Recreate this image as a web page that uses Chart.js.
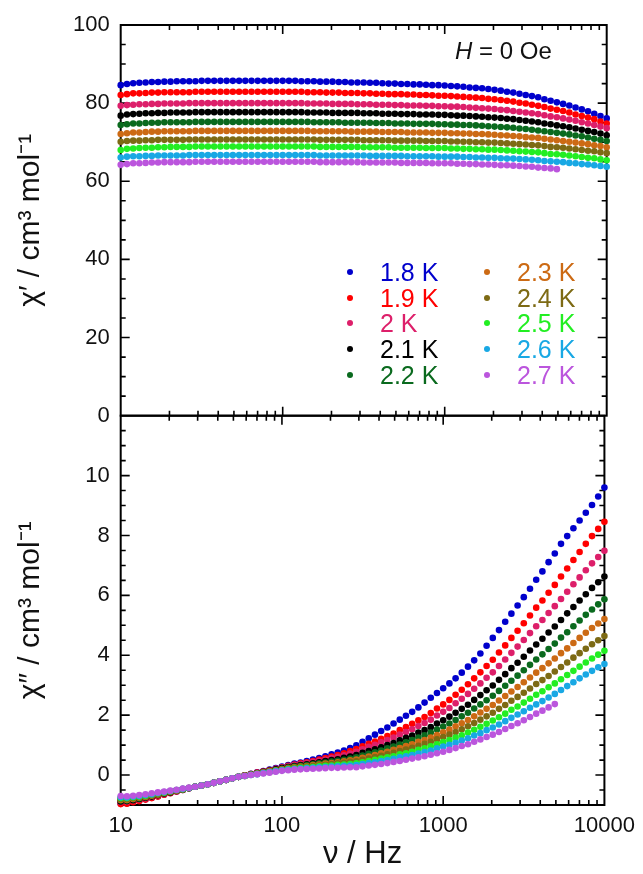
<!DOCTYPE html>
<html>
<head>
<meta charset="utf-8">
<script src="https://cdn.jsdelivr.net/npm/chart.js@4.4.1/dist/chart.umd.min.js"></script>
<style>
  html, body { margin: 0; padding: 0; background: #fff; }
  #wrap { position: relative; width: 643px; height: 874px; overflow: hidden; font-family: 'Liberation Sans', Arial, sans-serif; }
  #wrap canvas { position: absolute; left: 0; top: 0; }
  .note { position: absolute; left: 455px; top: 37px; font-size: 24px; line-height: 28px; color: #111; white-space: nowrap; }
  .leg { position: absolute; font-size: 25px; line-height: 26px; white-space: nowrap; }
  .leg b { position: absolute; width: 6px; height: 6px; border-radius: 50%; left: -33px; top: 10px; }
</style>
</head>
<body>
<div id="wrap">
  <canvas id="chartRe" width="643" height="874"></canvas>
  <canvas id="chartIm" width="643" height="874"></canvas>
  <div class="note"><i>H</i> = 0 Oe</div>
  <div id="legend"></div>
</div>
<script>
// frequency points (Hz), shared by every series
const freq = [
  10, 10.93, 11.94, 13.04, 14.25, 15.57, 17.01, 18.59, 20.31, 22.19, 24.25, 26.49, 28.94,
  31.62, 34.55, 37.75, 41.25, 45.07, 49.24, 53.80, 58.78, 64.22, 70.17, 76.67, 83.77, 91.52,
  100, 109.3, 119.4, 130.4, 142.5, 155.7, 170.1, 185.9, 203.1, 221.9, 242.5, 264.9, 289.4,
  316.2, 345.5, 377.5, 412.5, 450.7, 492.4, 538.0, 587.8, 642.2, 701.7, 766.7, 837.7, 915.2,
  1000, 1093, 1194, 1304, 1425, 1557, 1701, 1859, 2031, 2219, 2425, 2649, 2894,
  3162, 3455, 3775, 4125, 4507, 4924, 5380, 5878, 6422, 7017, 7667, 8377, 9152,
  10000
];

const temps = ['1.8 K', '1.9 K', '2 K', '2.1 K', '2.2 K', '2.3 K', '2.4 K', '2.5 K', '2.6 K', '2.7 K'];
const colors = ['#0000cc', '#ff0000', '#dd1f6a', '#000000', '#0a6a1e', '#cc6a14', '#7d6a14', '#22ee22', '#18a8e4', '#bb55dd'];

// chi' (in-phase)
const re18 = [
  84.6, 84.9, 85.1, 85.2, 85.3, 85.4, 85.4, 85.5, 85.5, 85.6, 85.6, 85.6, 85.6,
  85.7, 85.7, 85.7, 85.7, 85.7, 85.7, 85.7, 85.7, 85.7, 85.7, 85.7, 85.7, 85.7,
  85.7, 85.7, 85.7, 85.6, 85.6, 85.6, 85.5, 85.5, 85.5, 85.4, 85.4, 85.3, 85.3,
  85.3, 85.2, 85.2, 85.1, 85.0, 85.0, 84.9, 84.9, 84.8, 84.8, 84.7, 84.6, 84.6,
  84.5, 84.4, 84.3, 84.2, 84.0, 83.9, 83.8, 83.6, 83.4, 83.2, 82.9, 82.7, 82.4,
  82.1, 81.8, 81.5, 81.0, 80.6, 80.2, 79.8, 79.4, 78.9, 78.4, 77.9, 77.3, 76.7,
  76.1
];
const re19 = [
  82.1, 82.3, 82.5, 82.5, 82.6, 82.7, 82.7, 82.8, 82.8, 82.8, 82.8, 82.8, 82.9,
  82.9, 82.9, 82.9, 82.9, 82.9, 82.9, 82.9, 82.9, 82.9, 82.9, 82.9, 82.9, 82.9,
  82.9, 82.9, 82.9, 82.9, 82.8, 82.8, 82.8, 82.7, 82.7, 82.7, 82.6, 82.6, 82.6,
  82.5, 82.5, 82.4, 82.4, 82.3, 82.3, 82.3, 82.2, 82.2, 82.1, 82.1, 82.0, 81.9,
  81.9, 81.8, 81.7, 81.6, 81.5, 81.4, 81.3, 81.1, 81.0, 80.8, 80.6, 80.4, 80.1,
  79.9, 79.6, 79.3, 79.0, 78.6, 78.3, 78.0, 77.6, 77.1, 76.7, 76.3, 75.9, 75.3,
  74.8
];
const re20 = [
  79.3, 79.5, 79.6, 79.7, 79.7, 79.8, 79.8, 79.9, 79.9, 79.9, 79.9, 80.0, 80.0,
  80.0, 80.0, 80.0, 80.0, 80.0, 80.0, 80.0, 80.0, 80.0, 80.0, 80.0, 80.0, 80.0,
  80.0, 80.0, 80.0, 80.0, 79.9, 79.9, 79.9, 79.9, 79.8, 79.8, 79.8, 79.8, 79.7,
  79.7, 79.7, 79.6, 79.6, 79.6, 79.5, 79.5, 79.4, 79.4, 79.4, 79.3, 79.3, 79.2,
  79.2, 79.1, 79.1, 79.0, 78.9, 78.8, 78.7, 78.6, 78.5, 78.3, 78.2, 78.0, 77.8,
  77.6, 77.4, 77.2, 76.9, 76.6, 76.4, 76.1, 75.8, 75.5, 75.1, 74.8, 74.4, 74.0,
  73.6
];
const re21 = [
  76.8, 77.1, 77.2, 77.3, 77.4, 77.4, 77.5, 77.5, 77.6, 77.6, 77.6, 77.6, 77.7,
  77.7, 77.7, 77.7, 77.7, 77.7, 77.7, 77.7, 77.7, 77.7, 77.7, 77.7, 77.7, 77.7,
  77.7, 77.7, 77.7, 77.7, 77.6, 77.6, 77.6, 77.6, 77.5, 77.5, 77.5, 77.5, 77.5,
  77.4, 77.4, 77.4, 77.3, 77.3, 77.3, 77.2, 77.2, 77.2, 77.1, 77.1, 77.1, 77.0,
  77.0, 76.9, 76.8, 76.8, 76.7, 76.6, 76.5, 76.4, 76.3, 76.2, 76.0, 75.9, 75.7,
  75.5, 75.3, 75.1, 74.8, 74.6, 74.3, 74.1, 73.8, 73.5, 73.2, 72.9, 72.6, 72.2,
  71.8
];
const re22 = [
  74.4, 74.6, 74.8, 74.8, 74.9, 75.0, 75.0, 75.1, 75.1, 75.1, 75.1, 75.1, 75.2,
  75.2, 75.2, 75.2, 75.2, 75.2, 75.2, 75.2, 75.2, 75.2, 75.2, 75.2, 75.2, 75.2,
  75.2, 75.2, 75.2, 75.2, 75.2, 75.1, 75.1, 75.1, 75.1, 75.1, 75.0, 75.0, 75.0,
  75.0, 75.0, 74.9, 74.9, 74.9, 74.8, 74.8, 74.8, 74.7, 74.7, 74.7, 74.7, 74.6,
  74.6, 74.5, 74.5, 74.4, 74.4, 74.3, 74.2, 74.1, 74.0, 73.9, 73.8, 73.7, 73.5,
  73.4, 73.2, 73.0, 72.8, 72.6, 72.4, 72.2, 72.0, 71.7, 71.5, 71.2, 70.9, 70.6,
  70.3
];
const re23 = [
  72.1, 72.3, 72.5, 72.5, 72.6, 72.7, 72.7, 72.8, 72.8, 72.8, 72.8, 72.8, 72.9,
  72.9, 72.9, 72.9, 72.9, 72.9, 72.9, 72.9, 72.9, 72.9, 72.9, 72.9, 72.9, 72.9,
  72.9, 72.9, 72.9, 72.9, 72.9, 72.8, 72.8, 72.8, 72.8, 72.8, 72.8, 72.7, 72.7,
  72.7, 72.7, 72.7, 72.6, 72.6, 72.6, 72.6, 72.5, 72.5, 72.5, 72.5, 72.4, 72.4,
  72.4, 72.3, 72.3, 72.2, 72.2, 72.1, 72.1, 72.0, 71.9, 71.8, 71.7, 71.6, 71.5,
  71.3, 71.2, 71.1, 70.9, 70.7, 70.5, 70.3, 70.1, 69.9, 69.7, 69.5, 69.2, 69.0,
  68.7
];
const re24 = [
  70.1, 70.3, 70.4, 70.4, 70.5, 70.5, 70.6, 70.6, 70.6, 70.6, 70.6, 70.7, 70.7,
  70.7, 70.7, 70.7, 70.7, 70.7, 70.7, 70.7, 70.7, 70.7, 70.7, 70.7, 70.7, 70.7,
  70.7, 70.7, 70.7, 70.7, 70.7, 70.7, 70.6, 70.6, 70.6, 70.6, 70.6, 70.6, 70.6,
  70.5, 70.5, 70.5, 70.5, 70.5, 70.4, 70.4, 70.4, 70.4, 70.4, 70.3, 70.3, 70.3,
  70.3, 70.2, 70.2, 70.1, 70.1, 70.0, 70.0, 69.9, 69.9, 69.8, 69.7, 69.6, 69.5,
  69.4, 69.3, 69.2, 69.0, 68.8, 68.7, 68.6, 68.4, 68.2, 68.0, 67.8, 67.7, 67.4,
  67.2
];
const re25 = [
  68.0, 68.3, 68.4, 68.5, 68.6, 68.6, 68.7, 68.7, 68.8, 68.8, 68.8, 68.8, 68.9,
  68.9, 68.9, 68.9, 68.9, 68.9, 68.9, 68.9, 68.9, 68.9, 68.9, 68.9, 68.9, 68.9,
  68.9, 68.9, 68.9, 68.9, 68.9, 68.9, 68.8, 68.8, 68.8, 68.8, 68.8, 68.8, 68.8,
  68.7, 68.7, 68.7, 68.7, 68.7, 68.6, 68.6, 68.6, 68.6, 68.6, 68.5, 68.5, 68.5,
  68.5, 68.4, 68.4, 68.3, 68.3, 68.2, 68.2, 68.1, 68.1, 68.0, 67.9, 67.8, 67.7,
  67.6, 67.5, 67.4, 67.2, 67.0, 66.9, 66.8, 66.6, 66.4, 66.2, 66.0, 65.9, 65.6,
  65.4
];
const re26 = [
  66.1, 66.3, 66.4, 66.4, 66.5, 66.5, 66.6, 66.6, 66.6, 66.6, 66.6, 66.7, 66.7,
  66.7, 66.7, 66.7, 66.7, 66.7, 66.7, 66.7, 66.7, 66.7, 66.7, 66.7, 66.7, 66.7,
  66.7, 66.7, 66.7, 66.7, 66.7, 66.7, 66.6, 66.6, 66.6, 66.6, 66.6, 66.6, 66.6,
  66.6, 66.5, 66.5, 66.5, 66.5, 66.5, 66.5, 66.4, 66.4, 66.4, 66.4, 66.4, 66.3,
  66.3, 66.3, 66.3, 66.2, 66.2, 66.1, 66.1, 66.0, 66.0, 65.9, 65.8, 65.8, 65.7,
  65.6, 65.5, 65.4, 65.2, 65.1, 65.0, 64.9, 64.7, 64.6, 64.4, 64.3, 64.1, 63.9,
  63.7
];
const re27 = [
  64.2, 64.4, 64.6, 64.6, 64.7, 64.8, 64.8, 64.9, 64.9, 64.9, 64.9, 64.9, 65.0,
  65.0, 65.0, 65.0, 65.0, 65.0, 65.0, 65.0, 65.0, 65.0, 65.0, 65.0, 65.0, 65.0,
  65.0, 65.0, 65.0, 65.0, 65.0, 65.0, 64.9, 64.9, 64.9, 64.9, 64.9, 64.9, 64.9,
  64.8, 64.8, 64.8, 64.8, 64.8, 64.8, 64.7, 64.7, 64.7, 64.7, 64.7, 64.6, 64.6,
  64.6, 64.6, 64.5, 64.5, 64.4, 64.4, 64.3, 64.3, 64.2, 64.1, 64.1, 64.0, 63.9,
  63.8, 63.7, 63.5, 63.4, 63.3, 63.1
];

// chi'' (out-of-phase)
const im18 = [
  -0.95, -0.94, -0.90, -0.85, -0.81, -0.76, -0.71, -0.65, -0.60, -0.55, -0.50, -0.44, -0.39,
  -0.35, -0.31, -0.26, -0.21, -0.16, -0.11, -0.06, -0.01, 0.04, 0.09, 0.13, 0.18, 0.23,
  0.28, 0.33, 0.38, 0.42, 0.47, 0.52, 0.57, 0.63, 0.69, 0.75, 0.82, 0.90, 0.99,
  1.11, 1.23, 1.35, 1.47, 1.59, 1.72, 1.85, 1.98, 2.11, 2.26, 2.42, 2.58, 2.74,
  2.90, 3.06, 3.23, 3.42, 3.62, 3.83, 4.06, 4.32, 4.58, 4.84, 5.12, 5.39, 5.66,
  5.94, 6.22, 6.52, 6.80, 7.11, 7.40, 7.72, 7.98, 8.24, 8.50, 8.76, 9.02, 9.30,
  9.60
];
const im19 = [
  -0.97, -0.96, -0.91, -0.87, -0.82, -0.77, -0.72, -0.66, -0.61, -0.55, -0.50, -0.44, -0.39,
  -0.35, -0.31, -0.26, -0.21, -0.16, -0.11, -0.06, -0.01, 0.03, 0.08, 0.12, 0.17, 0.21,
  0.26, 0.31, 0.35, 0.39, 0.43, 0.47, 0.52, 0.57, 0.62, 0.67, 0.73, 0.80, 0.87,
  0.96, 1.04, 1.12, 1.21, 1.30, 1.39, 1.50, 1.60, 1.71, 1.83, 1.94, 2.07, 2.22,
  2.36, 2.51, 2.68, 2.85, 3.03, 3.23, 3.43, 3.64, 3.85, 4.09, 4.33, 4.58, 4.82,
  5.07, 5.33, 5.59, 5.83, 6.09, 6.35, 6.63, 6.90, 7.18, 7.45, 7.72, 7.98, 8.22,
  8.46
];
const im20 = [
  -0.90, -0.89, -0.85, -0.82, -0.78, -0.73, -0.68, -0.63, -0.58, -0.54, -0.49, -0.44, -0.39,
  -0.35, -0.31, -0.26, -0.21, -0.16, -0.11, -0.06, -0.02, 0.03, 0.07, 0.12, 0.16, 0.21,
  0.25, 0.29, 0.33, 0.37, 0.40, 0.44, 0.48, 0.52, 0.57, 0.61, 0.66, 0.72, 0.78,
  0.86, 0.94, 1.01, 1.09, 1.17, 1.25, 1.35, 1.44, 1.53, 1.64, 1.74, 1.85, 1.99,
  2.11, 2.24, 2.40, 2.55, 2.71, 2.88, 3.06, 3.25, 3.43, 3.64, 3.86, 4.08, 4.29,
  4.51, 4.74, 4.97, 5.18, 5.41, 5.64, 5.88, 6.12, 6.37, 6.60, 6.84, 7.07, 7.28,
  7.49
];
const im21 = [
  -0.88, -0.87, -0.84, -0.80, -0.76, -0.72, -0.67, -0.62, -0.58, -0.53, -0.48, -0.44, -0.39,
  -0.35, -0.31, -0.26, -0.21, -0.16, -0.11, -0.06, -0.02, 0.02, 0.06, 0.11, 0.15, 0.19,
  0.23, 0.27, 0.30, 0.33, 0.36, 0.39, 0.43, 0.47, 0.50, 0.53, 0.58, 0.62, 0.67,
  0.74, 0.80, 0.86, 0.93, 1.00, 1.07, 1.16, 1.24, 1.32, 1.42, 1.50, 1.60, 1.72,
  1.83, 1.95, 2.08, 2.21, 2.35, 2.51, 2.67, 2.83, 2.99, 3.18, 3.37, 3.57, 3.75,
  3.95, 4.16, 4.36, 4.55, 4.76, 4.96, 5.18, 5.40, 5.61, 5.83, 6.04, 6.25, 6.44,
  6.63
];
const im22 = [
  -0.85, -0.85, -0.81, -0.78, -0.74, -0.70, -0.66, -0.61, -0.57, -0.52, -0.48, -0.43, -0.39,
  -0.35, -0.31, -0.26, -0.21, -0.16, -0.11, -0.06, -0.02, 0.02, 0.06, 0.09, 0.13, 0.17,
  0.21, 0.25, 0.28, 0.31, 0.33, 0.36, 0.39, 0.42, 0.45, 0.48, 0.51, 0.55, 0.59,
  0.65, 0.71, 0.76, 0.82, 0.89, 0.95, 1.02, 1.09, 1.17, 1.25, 1.33, 1.42, 1.52,
  1.62, 1.72, 1.84, 1.96, 2.08, 2.22, 2.36, 2.50, 2.65, 2.81, 2.98, 3.15, 3.32,
  3.50, 3.68, 3.86, 4.03, 4.21, 4.39, 4.59, 4.77, 4.97, 5.16, 5.35, 5.53, 5.70,
  5.87
];
const im23 = [
  -0.83, -0.83, -0.80, -0.76, -0.73, -0.69, -0.65, -0.60, -0.56, -0.52, -0.47, -0.43, -0.39,
  -0.35, -0.31, -0.26, -0.21, -0.16, -0.11, -0.06, -0.02, 0.01, 0.05, 0.09, 0.13, 0.16,
  0.20, 0.23, 0.26, 0.28, 0.30, 0.33, 0.35, 0.38, 0.40, 0.43, 0.46, 0.49, 0.52,
  0.58, 0.62, 0.67, 0.73, 0.78, 0.84, 0.90, 0.97, 1.03, 1.11, 1.17, 1.25, 1.34,
  1.43, 1.52, 1.63, 1.73, 1.84, 1.96, 2.09, 2.21, 2.34, 2.49, 2.64, 2.79, 2.94,
  3.10, 3.26, 3.42, 3.57, 3.73, 3.89, 4.07, 4.23, 4.41, 4.58, 4.75, 4.91, 5.06,
  5.21
];
const im24 = [
  -0.80, -0.80, -0.77, -0.74, -0.71, -0.67, -0.63, -0.59, -0.55, -0.51, -0.47, -0.43, -0.39,
  -0.35, -0.31, -0.26, -0.21, -0.16, -0.11, -0.06, -0.03, 0.01, 0.04, 0.08, 0.11, 0.15,
  0.18, 0.22, 0.24, 0.26, 0.28, 0.30, 0.32, 0.34, 0.37, 0.39, 0.41, 0.44, 0.46,
  0.51, 0.55, 0.60, 0.64, 0.69, 0.74, 0.80, 0.85, 0.91, 0.98, 1.04, 1.11, 1.19,
  1.27, 1.35, 1.44, 1.53, 1.63, 1.74, 1.85, 1.96, 2.08, 2.21, 2.34, 2.48, 2.61,
  2.75, 2.89, 3.04, 3.17, 3.31, 3.46, 3.61, 3.76, 3.92, 4.07, 4.22, 4.37, 4.50,
  4.64
];
const im25 = [
  -0.77, -0.77, -0.74, -0.72, -0.69, -0.65, -0.61, -0.58, -0.54, -0.50, -0.47, -0.43, -0.39,
  -0.35, -0.31, -0.26, -0.21, -0.16, -0.11, -0.06, -0.03, 0.01, 0.04, 0.07, 0.10, 0.14,
  0.17, 0.20, 0.22, 0.24, 0.25, 0.27, 0.29, 0.31, 0.32, 0.34, 0.35, 0.37, 0.39,
  0.43, 0.47, 0.51, 0.55, 0.59, 0.63, 0.69, 0.73, 0.78, 0.84, 0.89, 0.96, 1.03,
  1.10, 1.17, 1.25, 1.33, 1.42, 1.51, 1.61, 1.71, 1.82, 1.93, 2.05, 2.18, 2.29,
  2.42, 2.55, 2.68, 2.80, 2.93, 3.06, 3.20, 3.34, 3.48, 3.62, 3.76, 3.89, 4.02,
  4.15
];
const im26 = [
  -0.74, -0.75, -0.72, -0.70, -0.67, -0.64, -0.60, -0.57, -0.53, -0.50, -0.46, -0.43, -0.39,
  -0.35, -0.31, -0.26, -0.21, -0.16, -0.11, -0.06, -0.03, 0.00, 0.03, 0.07, 0.10, 0.13,
  0.16, 0.18, 0.20, 0.22, 0.23, 0.24, 0.26, 0.27, 0.28, 0.29, 0.31, 0.32, 0.33,
  0.37, 0.40, 0.43, 0.47, 0.50, 0.54, 0.59, 0.63, 0.67, 0.72, 0.77, 0.82, 0.89,
  0.95, 1.01, 1.08, 1.15, 1.23, 1.32, 1.40, 1.50, 1.59, 1.69, 1.80, 1.91, 2.02,
  2.13, 2.25, 2.36, 2.47, 2.59, 2.71, 2.84, 2.97, 3.10, 3.23, 3.36, 3.48, 3.60,
  3.71
];
const im27 = [
  -0.70, -0.71, -0.69, -0.67, -0.64, -0.61, -0.58, -0.55, -0.52, -0.49, -0.45, -0.42, -0.39,
  -0.35, -0.31, -0.26, -0.21, -0.16, -0.11, -0.06, -0.03, 0.00, 0.03, 0.05, 0.08, 0.11,
  0.14, 0.16, 0.18, 0.19, 0.20, 0.21, 0.22, 0.23, 0.24, 0.24, 0.25, 0.26, 0.26,
  0.29, 0.32, 0.34, 0.37, 0.40, 0.44, 0.47, 0.51, 0.55, 0.59, 0.63, 0.68, 0.73,
  0.78, 0.84, 0.90, 0.97, 1.03, 1.11, 1.19, 1.27, 1.35, 1.44, 1.54, 1.64, 1.73,
  1.83, 1.94, 2.05, 2.15, 2.26, 2.37
];

const xTicks = [10, 100, 1000, 10000];
const imTicks = [0, 2, 4, 6, 8, 10];

const FONT = "'Liberation Sans', Arial, sans-serif";
const INK = '#111';

// frame with inward ticks on all four sides
const framePlugin = {
    id: 'frame',
    beforeDatasetsDraw(chart, args, opts) {
        const { ctx, chartArea: a } = chart;
        const x = chart.scales.x;
        const y = chart.scales.y;
        ctx.save();
        ctx.strokeStyle = '#000';
        ctx.lineWidth = 1.6;
        ctx.beginPath();
        for (let d = 10; d < 10000; d *= 10) {
            for (let m = 1; m <= 9; m++) {
                const px = x.getPixelForValue(d * m);
                if (px < a.left + 1 || px > a.right - 1) continue;
                const len = m === 1 ? 9 : 5;
                ctx.moveTo(px, a.top);
                ctx.lineTo(px, a.top + len);
                ctx.moveTo(px, a.bottom);
                ctx.lineTo(px, a.bottom - len);
            }
        }
        const n0 = Math.ceil(y.min / opts.minor);
        const n1 = Math.floor(y.max / opts.minor);
        for (let n = n0; n <= n1; n++) {
            const v = n * opts.minor;
            const py = y.getPixelForValue(v);
            if (py < a.top + 1 || py > a.bottom - 1) continue;
            const r = v / opts.major;
            const len = Math.abs(r - Math.round(r)) < 1e-6 ? 9 : 5;
            ctx.moveTo(a.left, py);
            ctx.lineTo(a.left + len, py);
            ctx.moveTo(a.right, py);
            ctx.lineTo(a.right - len, py);
        }
        ctx.stroke();
        ctx.lineWidth = 2;
        ctx.strokeRect(a.left, a.top, a.width, a.height);
        ctx.restore();
    }
};

function makeDatasets(list) {
    return list.map((vals, k) => ({
        label: temps[k],
        data: vals.map((v, i) => ({ x: freq[i], y: v })),
        backgroundColor: colors[k],
        borderWidth: 0,
        pointRadius: 3.3,
        pointHoverRadius: 3.3,
        showLine: false,
        clip: false,
        order: list.length - k
    }));
}

function yTitle(text) {
    return {
        display: true,
        text: text,
        color: INK,
        font: { family: FONT, size: 30, lineHeight: 1 },
        padding: { top: 16, bottom: 0 }
    };
}

function baseOptions() {
    return {
        responsive: false,
        animation: false,
        devicePixelRatio: 1,
        events: [],
        plugins: { legend: { display: false }, tooltip: { enabled: false } }
    };
}

const reOpts = baseOptions();
reOpts.layout = { padding: { top: 25, right: 36.3, bottom: 874 - 415.7, left: 0 } };
reOpts.plugins.frame = { minor: 5, major: 20 };
reOpts.scales = {
    x: { type: 'logarithmic', min: 10, max: 10000, display: false },
    y: {
        min: 0, max: 100,
        grid: { display: false, drawTicks: false },
        border: { display: false },
        ticks: { stepSize: 20, padding: 11, color: INK, font: { family: FONT, size: 22 } },
        title: yTitle('χ′ / cm³ mol⁻¹'),
        afterFit(scale) { scale.width = 120.7; }
    }
};

const imOpts = baseOptions();
imOpts.layout = { padding: { top: 415.7, right: 36.3, bottom: 0, left: 0 } };
imOpts.plugins.frame = { minor: 0.5, major: 2 };
imOpts.scales = {
    x: {
        type: 'logarithmic', min: 10, max: 10000,
        grid: { display: false, drawTicks: false },
        border: { display: false },
        afterBuildTicks(scale) { scale.ticks = xTicks.map(v => ({ value: v })); },
        ticks: { padding: 8, color: INK, font: { family: FONT, size: 22 }, callback: v => String(v), maxRotation: 0 },
        title: {
            display: true, text: 'ν / Hz', color: INK,
            font: { family: FONT, size: 31, lineHeight: 1 },
            padding: { top: 0, bottom: 4 }
        },
        afterFit(scale) { scale.height = 69; }
    },
    y: {
        min: -1, max: 12,
        grid: { display: false, drawTicks: false },
        border: { display: false },
        afterBuildTicks(scale) { scale.ticks = imTicks.map(v => ({ value: v })); },
        ticks: { padding: 11, color: INK, font: { family: FONT, size: 22 } },
        title: yTitle('χ″ / cm³ mol⁻¹'),
        afterFit(scale) { scale.width = 120.7; }
    }
};

new Chart(document.getElementById('chartRe'), {
    type: 'scatter',
    data: { datasets: makeDatasets([re18, re19, re20, re21, re22, re23, re24, re25, re26, re27]) },
    options: reOpts,
    plugins: [framePlugin]
});

new Chart(document.getElementById('chartIm'), {
    type: 'scatter',
    data: { datasets: makeDatasets([im18, im19, im20, im21, im22, im23, im24, im25, im26, im27]) },
    options: imOpts,
    plugins: [framePlugin]
});

// two-column legend inside the upper panel
const legend = document.getElementById('legend');
temps.forEach((t, k) => {
    const col = k < 5 ? 0 : 1;
    const row = k % 5;
    const item = document.createElement('div');
    item.className = 'leg';
    item.style.left = (col ? 517 : 380) + 'px';
    item.style.top = (259 + row * 25.7) + 'px';
    item.style.color = colors[k];
    item.innerHTML = '<b style="background:' + colors[k] + '"></b>' + t;
    legend.appendChild(item);
});
</script>
</body>
</html>
